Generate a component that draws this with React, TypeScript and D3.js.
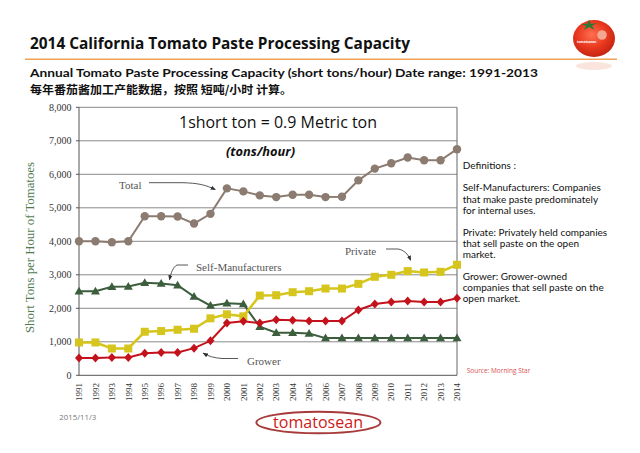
import React from "react";
import * as d3 from "d3";

const years = ["1991","1992","1993","1994","1995","1996","1997","1998","1999","2000","2001","2002","2003","2004","2005","2006","2007","2008","2009","2010","2011","2012","2013","2014"];
const totalValues = [4000,4000,3970,4000,4750,4750,4740,4530,4820,5580,5490,5370,5320,5390,5390,5320,5330,5820,6170,6330,6500,6420,6420,6750];
const selfManufacturerValues = [2510,2510,2640,2650,2760,2740,2690,2350,2080,2150,2130,1450,1270,1270,1250,1110,1110,1110,1110,1110,1110,1110,1110,1110];
const privateValues = [980,980,800,800,1300,1320,1360,1390,1700,1820,1760,2380,2390,2480,2510,2590,2590,2730,2940,3000,3110,3070,3090,3300];
const growerValues = [520,520,530,530,660,680,680,810,1030,1560,1610,1560,1660,1640,1620,1620,1620,1950,2130,2190,2220,2190,2190,2300];
const yTicks = [0,1000,2000,3000,4000,5000,6000,7000,8000];
const definitionLines = [
  "Definitions :",
  "",
  "Self-Manufacturers: Companies",
  "that make paste predominately",
  "for internal uses.",
  "",
  "Private: Privately held companies",
  "that sell paste on the open",
  "market.",
  "",
  "Grower: Grower-owned",
  "companies that sell paste on the",
  "open market.",
];

const W = 640, H = 453;
const PL = 79, PR = 457, PT = 107.3, PB = 375.3;

type Shape = "circle" | "triangle" | "square" | "diamond";
const seriesList: { name: string; values: number[]; color: string; shape: Shape; width: number }[] = [
  { name: "Total", values: totalValues, color: "#8c7b70", shape: "circle", width: 2 },
  { name: "Self-Manufacturers", values: selfManufacturerValues, color: "#3c5e3c", shape: "triangle", width: 2 },
  { name: "Private", values: privateValues, color: "#d6c51c", shape: "square", width: 2.5 },
  { name: "Grower", values: growerValues, color: "#c4121c", shape: "diamond", width: 2 },
];

function Marker({ shape, x, y, color }: { shape: Shape; x: number; y: number; color: string }) {
  if (shape === "circle") return <circle cx={x} cy={y} r={4.2} fill={color} />;
  if (shape === "square") return <rect x={x - 4} y={y - 4} width={8} height={8} fill={color} />;
  if (shape === "triangle") return <path d={`M${x},${y - 4.5}L${x + 4.5},${y + 3.2}L${x - 4.5},${y + 3.2}Z`} fill={color} />;
  return <path d={`M${x},${y - 4.5}L${x + 4},${y}L${x},${y + 4.5}L${x - 4},${y}Z`} fill={color} />;
}

export default function App() {
  const x = d3.scalePoint<string>().domain(years).range([PL, PR]);
  const y = d3.scaleLinear().domain([0, 8000]).range([PB, PT]);
  const line = d3.line<number>().x((_, i) => x(years[i]) as number).y((v) => y(v));
  const fmt = d3.format(",");
  const serif = "'Liberation Serif', 'DejaVu Serif', serif";
  const sans = "'Open Sans', 'Noto Sans', sans-serif";

  return (
    <svg width={W} height={H} style={{ position: "absolute", left: 0, top: 0, background: "#fff" }} fontFamily={sans}>
      <defs>
        <marker id="arr" viewBox="0 0 10 10" refX="8" refY="5" markerWidth="6" markerHeight="6" orient="auto">
          <path d="M0,1L10,5L0,9Z" fill="#333" />
        </marker>
        <radialGradient id="tom" cx="45%" cy="40%" r="60%">
          <stop offset="0%" stopColor="#ff7050" />
          <stop offset="60%" stopColor="#e8381e" />
          <stop offset="100%" stopColor="#c42412" />
        </radialGradient>
      </defs>
      <rect width={W} height={H} fill="#fff" />

      {/* header */}
      <text x={30} y={49} fontSize={16} fontWeight="bold" fill="#111" textLength={380} lengthAdjust="spacingAndGlyphs">
        2014 California Tomato Paste Processing Capacity
      </text>
      <line x1={25} x2={617} y1={59.3} y2={59.3} stroke="#f0a155" strokeWidth={1.6} />
      <text x={30} y={76.5} fontSize={12} fontWeight="bold" fill="#111" fontFamily="Lato, 'Open Sans', sans-serif" textLength={508} lengthAdjust="spacingAndGlyphs">
        Annual Tomato Paste Processing Capacity (short tons/hour) Date range: 1991-2013
      </text>
      <text x={30} y={93.8} fontSize={11.5} fontWeight="bold" fill="#111" fontFamily="'Noto Sans CJK SC', sans-serif" textLength={262} lengthAdjust="spacingAndGlyphs">
        每年番茄酱加工产能数据，按照 短吨/小时 计算。
      </text>

      {/* tomato logo */}
      <ellipse cx={594} cy={66} rx={18} ry={4} fill="#f6d2c8" opacity={0.6} />
      <ellipse cx={594} cy={38.5} rx={21} ry={18.5} fill="url(#tom)" />
      <circle cx={602} cy={35} r={4.8} fill="#f3b09c" opacity={0.9} />
      <path d="M589,20 L591,24 L597,23 L592,26 L595,30 L589,27 L584,30 L586,26 L581,24 L587,24 Z" fill="#2e7a32" />
      <text x={577} y={42.5} fontSize={3.2} fill="#fff" fontWeight="bold">tomatosean</text>

      {/* grid */}
      {yTicks.map((t) => (
        <g key={t}>
          <line x1={PL} x2={PR} y1={y(t)} y2={y(t)} stroke={t === 0 ? "#555" : "#8a8a8a"} strokeWidth={1} />
          <line x1={PL - 3} x2={PL} y1={y(t)} y2={y(t)} stroke="#555" />
          <text x={71.5} y={y(t) + 3.3} fontSize={10} textAnchor="end" fontFamily={serif} fill="#333">{fmt(t)}</text>
        </g>
      ))}
      <line x1={PL} x2={PL} y1={PT} y2={PB} stroke="#555" />
      <line x1={PR} x2={PR} y1={PT} y2={PB} stroke="#666" />
      {years.map((yr) => (
        <text key={yr} transform={`translate(${(x(yr) as number) + 3.2},383) rotate(-90)`} fontSize={9} textAnchor="end" fontFamily={serif} fill="#333">{yr}</text>
      ))}
      <text transform={`translate(34,247.5) rotate(-90)`} fontSize={12.5} textAnchor="middle" fontFamily={serif} fill="#4f7d4f" textLength={171} lengthAdjust="spacingAndGlyphs">
        Short Tons per Hour of Tomatoes
      </text>

      {/* annotations in plot */}
      <text x={179} y={127.5} fontSize={17} fill="#111" textLength={198} lengthAdjust="spacingAndGlyphs">1short ton = 0.9 Metric ton</text>
      <text x={226} y={156} fontSize={13} fontWeight="bold" fontStyle="italic" fill="#111" textLength={69} lengthAdjust="spacingAndGlyphs">(tons/hour)</text>

      {/* series */}
      {seriesList.map((s) => (
        <g key={s.name}>
          <path d={line(s.values) as string} fill="none" stroke={s.color} strokeWidth={s.width} />
          {s.values.map((v, i) => (
            <Marker key={i} shape={s.shape} x={x(years[i]) as number} y={y(v)} color={s.color} />
          ))}
        </g>
      ))}

      {/* series labels & arrows */}
      <g fontFamily={serif} fontSize={11} fill="#555">
        <text x={119} y={188.5}>Total</text>
        <text x={196} y={271}>Self-Manufacturers</text>
        <text x={345} y={255}>Private</text>
        <text x={247} y={364.5}>Grower</text>
      </g>
      <g fill="none" stroke="#444" strokeWidth={0.9}>
        <path d="M149,182.7 L182,182.7 C198,183 206,185 215,189.5" markerEnd="url(#arr)" />
        <path d="M188,265 L177,265 C173,267 171,273 169.5,279.5" markerEnd="url(#arr)" />
        <path d="M386,249 L398,249 C404,250 408,254 410.5,260" markerEnd="url(#arr)" />
        <path d="M238,358.5 L222,358.5 C214,358 208,356 203.5,353.3" markerEnd="url(#arr)" />
      </g>

      {/* definitions */}
      <g fontFamily="Lato, 'Open Sans', sans-serif" fontSize={10} fill="#111">
        {definitionLines.map((l, i) => (
          <text key={i} x={462.7} y={169.2 + i * 11.1}>{l}</text>
        ))}
      </g>
      <text x={466.7} y={372.5} fontSize={6.5} fill="#d9534f">Source: Morning Star</text>

      {/* footer */}
      <text x={59.3} y={419.5} fontSize={7.8} fill="#777">2015/11/3</text>
      <ellipse cx={318.4} cy={422.5} rx={62} ry={10.8} fill="none" stroke="#a83a3a" strokeWidth={2} />
      <text x={273} y={428} fontSize={16} fill="#cc1a1a" textLength={90} lengthAdjust="spacingAndGlyphs">tomatosean</text>
    </svg>
  );
}
